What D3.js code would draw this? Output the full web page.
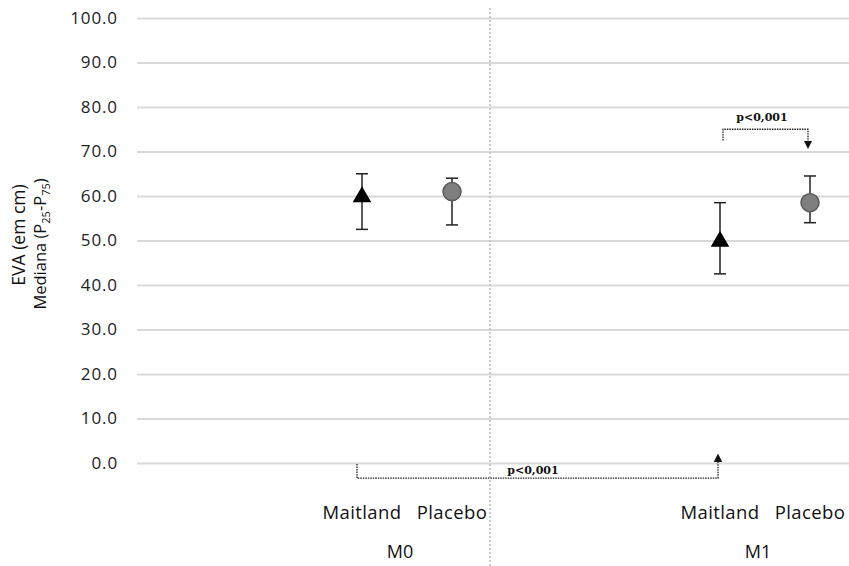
<!DOCTYPE html>
<html>
<head>
<meta charset="utf-8">
<script src="https://cdn.jsdelivr.net/npm/d3@7"></script>
<style>
  body { margin: 0; background: #fff; }
  text { font-family: "Open Sans", sans-serif; }
</style>
</head>
<body>
<div id="chart"></div>
<script>
// Chart data
var groups = ["M0", "M1"];
var treatments = ["Maitland", "Placebo"];
var medians = [60.0, 61.0, 50.0, 58.5];
var p25 = [52.5, 53.5, 42.5, 54.0];
var p75 = [65.0, 64.0, 58.5, 64.5];
var yTicks = [0, 10, 20, 30, 40, 50, 60, 70, 80, 90, 100];
var pLabel = "p<0,001";

var svg_width = 849;
var svg_height = 566;

var svg = d3.select("#chart").append("svg")
  .attr("width", svg_width)
  .attr("height", svg_height);

var y = d3.scaleLinear().domain([0, 100]).range([463, 18]);

// x positions: group start + treatment offset
var groupX = d3.scalePoint().domain(groups).range([362, 720]);
var treatX = d3.scalePoint().domain(treatments).range([0, 90]);
var xPos = function(i) {
  return groupX(groups[Math.floor(i / 2)]) + treatX(treatments[i % 2]);
};

// gridlines
var yAxis = d3.axisLeft(y).tickValues(yTicks).tickSize(-(849 - 137)).tickFormat(d3.format(".1f"));
var gAxis = svg.append("g").attr("transform", "translate(137,0)").call(yAxis);
gAxis.select(".domain").remove();
gAxis.selectAll(".tick line").attr("stroke", "#d9d9d9").attr("stroke-width", 2);
gAxis.selectAll(".tick text")
  .attr("x", -19)
  .attr("font-size", "17px")
  .attr("letter-spacing", "0.9px")
  .attr("fill", "#222")
  .style("font-family", "'Open Sans', sans-serif");

// vertical divider
svg.append("line")
  .attr("x1", 490).attr("x2", 490)
  .attr("y1", 8).attr("y2", 566)
  .attr("stroke", "#bbb")
  .attr("stroke-width", 1.5)
  .attr("stroke-dasharray", "2,2");

// error bars
var pts = medians.map(function(m, i) {
  return { med: m, lo: p25[i], hi: p75[i], x: xPos(i), t: treatments[i % 2] };
});

var eb = svg.selectAll("g.eb").data(pts).enter().append("g");
eb.append("line")
  .attr("x1", function(d) { return d.x; })
  .attr("x2", function(d) { return d.x; })
  .attr("y1", function(d) { return y(d.lo); })
  .attr("y2", function(d) { return y(d.hi); })
  .attr("stroke", "#222").attr("stroke-width", 1.5);
["lo", "hi"].forEach(function(k) {
  eb.append("line")
    .attr("x1", function(d) { return d.x - 6; })
    .attr("x2", function(d) { return d.x + 6; })
    .attr("y1", function(d) { return y(d[k]); })
    .attr("y2", function(d) { return y(d[k]); })
    .attr("stroke", "#222").attr("stroke-width", 1.5);
});

// markers
eb.filter(function(d) { return d.t == "Maitland"; })
  .append("path")
  .attr("d", d3.symbol().type(d3.symbolTriangle).size(150))
  .attr("transform", function(d) { return "translate(" + d.x + "," + (y(d.med) + 1) + ")"; })
  .attr("fill", "#000");

eb.filter(function(d) { return d.t == "Placebo"; })
  .append("circle")
  .attr("cx", function(d) { return d.x; })
  .attr("cy", function(d) { return y(d.med); })
  .attr("r", 9)
  .attr("fill", "#7f7f7f")
  .attr("stroke", "#595959")
  .attr("stroke-width", 1.5);

// x labels
svg.selectAll("text.tr").data(pts).enter().append("text")
  .attr("x", function(d) { return d.x; })
  .attr("y", 519)
  .attr("text-anchor", "middle")
  .attr("font-size", "18.5px")
  .attr("letter-spacing", "0.4px")
  .attr("fill", "#111")
  .text(function(d) { return d.t; });

svg.selectAll("text.grp").data(groups).enter().append("text")
  .attr("x", function(d) { return groupX(d) + 38; })
  .attr("y", 558)
  .attr("text-anchor", "middle")
  .attr("font-size", "18px")
  .attr("fill", "#111")
  .text(function(d) { return d; });

// y titles
svg.append("text")
  .attr("transform", "translate(25,235) rotate(-90)")
  .attr("text-anchor", "middle")
  .attr("font-size", "17.5px")
  .attr("fill", "#111")
  .text("EVA (em cm)");

var t2 = svg.append("text")
  .attr("transform", "translate(46,244) rotate(-90)")
  .attr("text-anchor", "middle")
  .attr("font-size", "16.5px")
  .attr("fill", "#111");
t2.append("tspan").text("Mediana (P");
t2.append("tspan").attr("font-size", "11px").attr("dy", 4).text("25");
t2.append("tspan").attr("dy", -4).text("-P");
t2.append("tspan").attr("font-size", "11px").attr("dy", 4).text("75");
t2.append("tspan").attr("dy", -4).text(")");

// significance brackets
var defs = svg.append("defs");
defs.append("marker")
  .attr("id", "arr")
  .attr("viewBox", "0 0 10 10")
  .attr("refX", 5).attr("refY", 5)
  .attr("markerWidth", 6.5).attr("markerHeight", 6.5)
  .attr("orient", "auto")
  .append("path").attr("d", "M0,0 L10,5 L0,10 Z").attr("fill", "#111");

var brk = [
  { x1: pts[0].x - 5, x2: pts[2].x - 2, y0: -0.2, yb: -3.4, yend: 1.2, lx: 533, ly: 474 },
  { x1: pts[2].x + 3, x2: pts[3].x - 2, y0: 72.5, yb: 75.0, yend: 71.5, lx: 762, ly: 121 }
];
brk.forEach(function(b) {
  svg.append("path")
    .attr("d", "M" + b.x1 + "," + y(b.y0) + "V" + y(b.yb) + "H" + b.x2 + "V" + y(b.yend))
    .attr("fill", "none")
    .attr("stroke", "#222")
    .attr("stroke-width", 1.3)
    .attr("stroke-dasharray", "1.5,1")
    .attr("marker-end", "url(#arr)");
  svg.append("text")
    .attr("x", b.lx).attr("y", b.ly)
    .attr("text-anchor", "middle")
    .attr("font-size", "11px")
    .attr("font-weight", "bold")
    .style("font-family", "'DejaVu Serif', 'Liberation Serif', serif")
    .attr("fill", "#111")
    .text(pLabel);
});
</script>
</body>
</html>
